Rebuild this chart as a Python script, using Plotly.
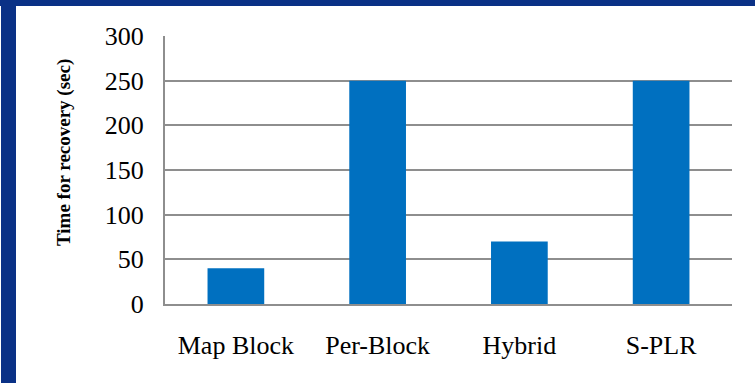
import plotly.graph_objects as go

categories = ["Map Block", "Per-Block", "Hybrid", "S-PLR"]
values = [40, 250, 70, 250]
y_ticks = [0, 50, 100, 150, 200, 250, 300]

W, H = 755, 383
L, R, T, B = 165, 23, 36, 79
pw, ph = W - L - R, H - T - B

def px_x(p):
    return (p - L) / pw

def px_y(p):
    return (H - B - p) / ph

fig = go.Figure(go.Bar(x=categories, y=values, marker=dict(color="#0070c0", line=dict(width=0)), width=0.4))

font = "Liberation Serif, Times New Roman, serif"
fig.update_layout(
    width=W, height=H,
    margin=dict(l=L, r=R, t=T, b=B),
    paper_bgcolor="white", plot_bgcolor="white",
    showlegend=False,
    font=dict(family=font, size=26, color="black"),
    bargap=0.6,
    xaxis=dict(showline=True, linecolor="#8e8e8e", linewidth=2, showgrid=False,
               ticks="", ticklabelstandoff=17, tickfont=dict(size=26)),
    yaxis=dict(range=[0, 300], tickvals=y_ticks, showline=True, linecolor="#8e8e8e", linewidth=2,
               showgrid=True, gridcolor="#8e8e8e", gridwidth=2, zeroline=False,
               ticks="", ticklabelstandoff=14, tickfont=dict(size=26)),
    annotations=[
        dict(text="<b>Time for recovery (sec)</b>", xref="paper", yref="paper",
             x=px_x(64), y=px_y(153), xanchor="center", yanchor="middle",
             textangle=-90, showarrow=False, font=dict(size=19, family=font, color="black")),
    ],
    shapes=[
        dict(type="rect", xref="paper", yref="paper", x0=px_x(1), x1=px_x(16), y0=px_y(383), y1=px_y(0),
             fillcolor="#0a3186", line=dict(width=0), layer="above"),
        dict(type="rect", xref="paper", yref="paper", x0=px_x(0), x1=px_x(755), y0=px_y(6), y1=px_y(0),
             fillcolor="#0a3186", line=dict(width=0), layer="above"),
    ],
)

fig.write_html("out.html")
